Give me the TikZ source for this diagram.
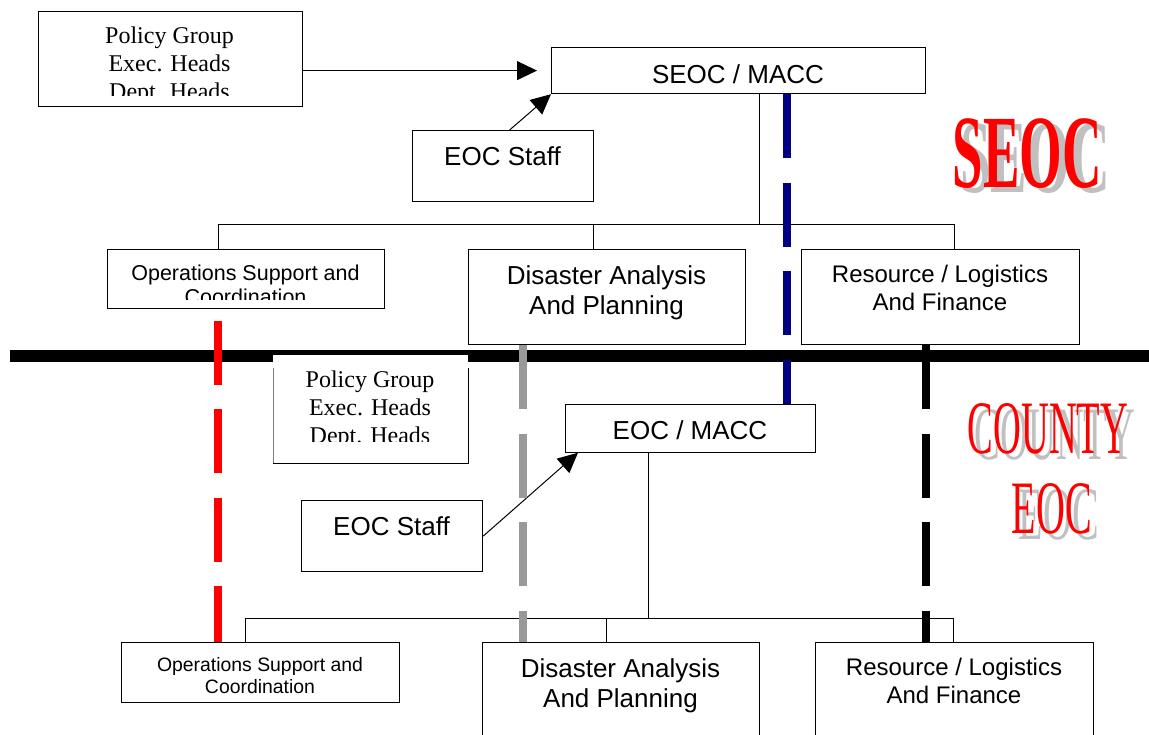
\documentclass[tikz,border=0pt]{standalone}
\usepackage{fontspec}
\setmainfont{Liberation Serif}
\setsansfont{Liberation Sans}
\usetikzlibrary{arrows.meta}
\definecolor{navyb}{HTML}{000080}
\definecolor{dgray}{HTML}{999999}
\definecolor{shadowgray}{HTML}{C0C0C0}
\tikzset{
  box/.style={draw, line width=1.2pt, inner sep=0pt, anchor=north west},
  conn/.style={line width=1pt},
  arr/.style={line width=1pt, -{Triangle[length=20pt,width=19pt]}},
  lab/.style={anchor=base, inner sep=0pt},
  fA/.style={font={\fontsize{26}{30}\selectfont\sffamily}},
  fR/.style={font={\fontsize{24}{28}\selectfont\sffamily}},
  fO/.style={font={\fontsize{21.5}{24}\selectfont\sffamily}},
  fOs/.style={font={\fontsize{19.4}{22}\selectfont\sffamily}},
  fP/.style={font={\fontsize{24}{28}\selectfont\rmfamily}},
  dashline/.style={line width=7.5pt, dash pattern=on 64pt off 24.5pt},
}
\begin{document}
\begin{tikzpicture}[x=1pt,y=-1pt]
\clip (0,0) rectangle (1149,734);
\useasboundingbox (0,0) rectangle (1149,734);

% ---------------- SEOC level ----------------
\node[box, minimum width=264pt, minimum height=95pt] (pg1) at (38,11) {};
\begin{scope}
  \clip (38,11) rectangle (301,95.5);
  \node[lab, fP] (pg1a) at (169.5,43) {Policy Group};
  \node[lab, fP] (pg1b) at (169.5,71) {Exec. Heads};
  \node[lab, fP] (pg1c) at (169.5,99) {Dept. Heads};
\end{scope}

\node[box, minimum width=374pt, minimum height=46pt] (seoc) at (551,47) {};
\node[lab, fA] (seoct) at (738,83) {SEOC / MACC};

\node[box, minimum width=181pt, minimum height=71pt] (staff1) at (412,130) {};
\node[lab, fA] (staff1t) at (502.5,165) {EOC Staff};

\node[box, minimum width=277pt, minimum height=59pt] (ops1) at (107,249) {};
\begin{scope}
  \clip (107,249) rectangle (384,299.5);
  \node[lab, fO] (ops1a) at (245.5,280) {Operations Support and};
  \node[lab, fO] (ops1b) at (245.5,304.5) {Coordination};
\end{scope}

\node[box, minimum width=277pt, minimum height=95pt] (dis1) at (468,249) {};
\node[lab, fA] (dis1a) at (606.5,284) {Disaster Analysis};
\node[lab, fA] (dis1b) at (606.5,314) {And Planning};

\node[box, minimum width=278pt, minimum height=95pt] (res1) at (801,249) {};
\node[lab, fR] (res1a) at (940,282) {Resource / Logistics};
\node[lab, fR] (res1b) at (940,310) {And Finance};

% connectors top
\draw[arr, shorten >=14pt] (pg1.east |- seoc.west) -- (seoc.west);
\draw[arr] ([xshift=6.5pt]staff1.north) -- (seoc.south west);
\coordinate (j1) at (759,224.5);
\coordinate (j1l) at (218,224.5);
\coordinate (j1m) at (593,224.5);
\coordinate (j1r) at (954,224.5);
\draw[conn] (seoc.south -| j1) -- (j1);
\draw[conn] (j1l |- ops1.north) -- (j1l) -- (j1r) -- (j1r |- res1.north);
\draw[conn] (j1m) -- (j1m |- dis1.north);

% ---------------- divider ----------------
\coordinate (divl) at (10,356);
\coordinate (divr) at (1149,356);
\draw[line width=12pt] (divl) -- (divr);

% ---------------- County level ----------------
\node[fill=white, inner sep=0pt, minimum width=195pt, minimum height=108pt, anchor=north west] (pg2) at (273,355) {};
\draw[line width=1pt, gray] ([yshift=-13pt]pg2.north west) -- (pg2.south west);
\draw[line width=1.2pt] (pg2.south west) -- (pg2.south east) -- ([yshift=-13pt]pg2.north east);
\begin{scope}
  \clip (273,355) rectangle (468,441);
  \node[lab, fP] (pg2a) at (370,387) {Policy Group};
  \node[lab, fP] (pg2b) at (370,415) {Exec. Heads};
  \node[lab, fP] (pg2c) at (370,443) {Dept. Heads};
\end{scope}

\node[box, minimum width=250pt, minimum height=47.5pt] (eocm) at (565,404) {};
\node[lab, fA] (eocmt) at (690,439) {EOC / MACC};

\node[box, minimum width=181pt, minimum height=71pt] (staff2) at (301,500) {};
\node[lab, fA] (staff2t) at (391.5,535) {EOC Staff};

\node[box, minimum width=278pt, minimum height=60pt] (ops2) at (121,642) {};
\node[lab, fOs] (ops2a) at (260,671) {Operations Support and};
\node[lab, fOs] (ops2b) at (260,693) {Coordination};

\node[box, minimum width=277pt, minimum height=120pt] (dis2) at (482,642) {};
\node[lab, fA] (dis2a) at (620.5,677) {Disaster Analysis};
\node[lab, fA] (dis2b) at (620.5,707) {And Planning};

\node[box, minimum width=278pt, minimum height=120pt] (res2) at (815,642) {};
\node[lab, fR] (res2a) at (954,675) {Resource / Logistics};
\node[lab, fR] (res2b) at (954,703) {And Finance};

% connectors bottom
\draw[arr] (staff2.east) -- ([xshift=13pt]eocm.south west);
\coordinate (j2) at (648,618.3);
\coordinate (j2l) at (245.7,618.3);
\coordinate (j2m) at (606.7,618.3);
\coordinate (j2r) at (953.5,618.3);
\draw[conn] (eocm.south -| j2) -- (j2);
\draw[conn] (j2l |- ops2.north) -- (j2l) -- (j2r) -- (j2r |- res2.north);
\draw[conn] (j2m) -- (j2m |- dis2.north);

% ---------------- dashed links ----------------
\coordinate (bx) at (787,0);
\coordinate (rx) at (218,320.7);
\coordinate (gx) at (523,0);
\coordinate (kx) at (926,0);
\draw[dashline, navyb] (seoc.south -| bx) -- (eocm.north -| bx);
\draw[dashline, red] (rx) -- (rx |- ops2.north);
\draw[dashline, dgray] (dis1.south -| gx) -- (dis2.north -| gx);
\draw[dashline, black] (res1.south -| kx) -- (res2.north -| kx);

% ---------------- big labels ----------------
\node[lab, text=shadowgray, font={\fontsize{104}{110}\selectfont\rmfamily\bfseries}] (seocs) at (1035,192) {\scalebox{0.527}[1]{SEOC}};
\node[lab, text=red, font={\fontsize{104}{110}\selectfont\rmfamily\bfseries}] (seocl) at (1027.5,187) {\scalebox{0.527}[1]{SEOC}};

\node[lab, text=shadowgray, font={\fontsize{75.5}{80}\selectfont\rmfamily}] (cnts) at (1055,459) {\scalebox{0.51}[1]{COUNTY}};
\node[lab, text=red, font={\fontsize{75.5}{80}\selectfont\rmfamily}] (cntl) at (1048,453) {\scalebox{0.51}[1]{COUNTY}};
\node[lab, text=shadowgray, font={\fontsize{75.5}{80}\selectfont\rmfamily}] (eocs) at (1059,539) {\scalebox{0.53}[1]{EOC}};
\node[lab, text=red, font={\fontsize{75.5}{80}\selectfont\rmfamily}] (eocl) at (1052,533) {\scalebox{0.53}[1]{EOC}};
\end{tikzpicture}
\end{document}
